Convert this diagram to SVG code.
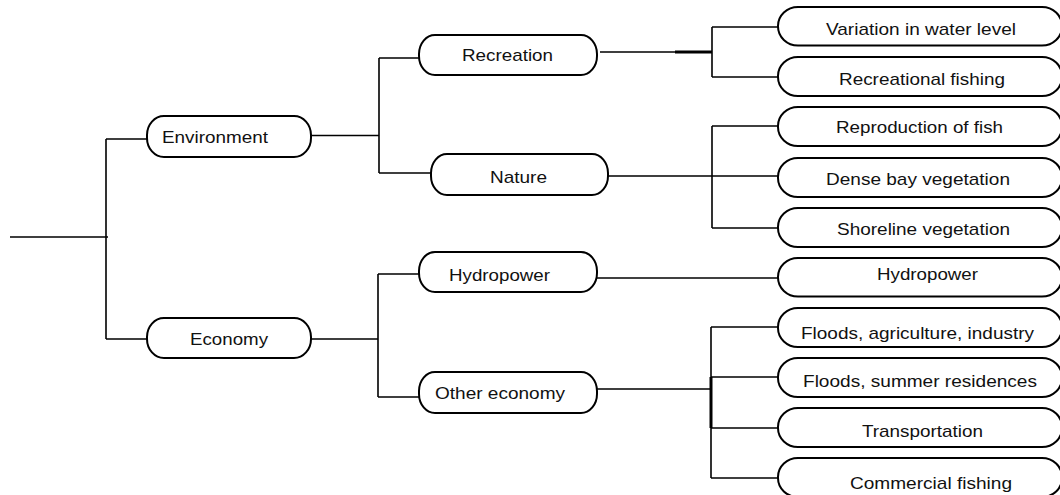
<svg xmlns="http://www.w3.org/2000/svg" width="1060" height="495" viewBox="0 0 1060 495">
  <style>
    .box { fill: #ffffff; stroke: #000000; stroke-width: 2; }
    .wire { fill: none; stroke: #000000; stroke-width: 1.6; }
    .thick { fill: none; stroke: #000000; stroke-width: 3; }
    text { font-family: "Liberation Sans", Arial, sans-serif; font-size: 17px; fill: #111111; }
  </style>

  <!-- connectors -->
  <g id="connectors">
    <!-- root to first level -->
    <path class="wire" d="M10,237 H108 M106,139 V339 M106,139 H147 M106,339 H147"/>
    <!-- Environment -->
    <path class="wire" d="M311,135.5 H379 M379,58 V173 M379,58 H419 M379,173 H431"/>
    <!-- Economy -->
    <path class="wire" d="M311,339 H378 M378,274 V397 M378,274 H419 M378,397 H419"/>
    <!-- Recreation -->
    <path class="wire" d="M600,52 H712 M712,27 V77 M712,27 H778 M712,77 H778"/>
    <path class="thick" d="M675,52 H712"/>
    <!-- Nature -->
    <path class="wire" d="M608,176 H778 M712,126 V228 M712,126 H778 M712,228 H778"/>
    <!-- Hydropower -->
    <path class="wire" d="M597,278 H778"/>
    <!-- Other economy -->
    <path class="wire" d="M597,389 H711 M711,327 V478 M711,327 H778 M711,377 H778 M711,428 H778 M711,478 H778"/>
    <path class="thick" d="M711,377 V428"/>
  </g>

  <!-- first level -->
  <g id="environment">
    <rect class="box" x="147" y="116" width="164" height="41" rx="17" ry="19"/>
    <text x="162" y="143" textLength="106" lengthAdjust="spacingAndGlyphs">Environment</text>
  </g>
  <g id="economy">
    <rect class="box" x="147" y="318" width="164" height="40" rx="17" ry="19"/>
    <text x="190" y="345" textLength="78" lengthAdjust="spacingAndGlyphs">Economy</text>
  </g>

  <!-- second level -->
  <g id="recreation">
    <rect class="box" x="419" y="35" width="178" height="40" rx="16" ry="19"/>
    <text x="462" y="61" textLength="91" lengthAdjust="spacingAndGlyphs">Recreation</text>
  </g>
  <g id="nature">
    <rect class="box" x="431" y="154" width="177" height="41" rx="16" ry="19"/>
    <text x="490" y="183" textLength="57" lengthAdjust="spacingAndGlyphs">Nature</text>
  </g>
  <g id="hydropower-sector">
    <rect class="box" x="419" y="252" width="178" height="40" rx="16" ry="19"/>
    <text x="449" y="281" textLength="101" lengthAdjust="spacingAndGlyphs">Hydropower</text>
  </g>
  <g id="other-economy">
    <rect class="box" x="419" y="372" width="178" height="41" rx="16" ry="19"/>
    <text x="435" y="399" textLength="130" lengthAdjust="spacingAndGlyphs">Other economy</text>
  </g>

  <!-- third level -->
  <g id="variation-water-level">
    <rect class="box" x="778" y="7" width="284" height="38.5" rx="20" ry="19"/>
    <text x="826" y="35" textLength="190" lengthAdjust="spacingAndGlyphs">Variation in water level</text>
  </g>
  <g id="recreational-fishing">
    <rect class="box" x="778" y="57" width="284" height="39" rx="20" ry="19"/>
    <text x="839" y="85" textLength="166" lengthAdjust="spacingAndGlyphs">Recreational fishing</text>
  </g>
  <g id="reproduction-fish">
    <rect class="box" x="778" y="107" width="284" height="39" rx="20" ry="19"/>
    <text x="836" y="133" textLength="167" lengthAdjust="spacingAndGlyphs">Reproduction of fish</text>
  </g>
  <g id="dense-bay-vegetation">
    <rect class="box" x="778" y="158" width="284" height="39" rx="20" ry="19"/>
    <text x="826" y="185" textLength="184" lengthAdjust="spacingAndGlyphs">Dense bay vegetation</text>
  </g>
  <g id="shoreline-vegetation">
    <rect class="box" x="778" y="208" width="284" height="39" rx="20" ry="19"/>
    <text x="837" y="235" textLength="173" lengthAdjust="spacingAndGlyphs">Shoreline vegetation</text>
  </g>
  <g id="hydropower">
    <rect class="box" x="778" y="258" width="284" height="38.5" rx="20" ry="19"/>
    <text x="877" y="280" textLength="101" lengthAdjust="spacingAndGlyphs">Hydropower</text>
  </g>
  <g id="floods-agriculture-industry">
    <rect class="box" x="778" y="308" width="284" height="39" rx="20" ry="19"/>
    <text x="801" y="339" textLength="233" lengthAdjust="spacingAndGlyphs">Floods, agriculture, industry</text>
  </g>
  <g id="floods-summer-residences">
    <rect class="box" x="778" y="358" width="284" height="39" rx="20" ry="19"/>
    <text x="803" y="387" textLength="234" lengthAdjust="spacingAndGlyphs">Floods, summer residences</text>
  </g>
  <g id="transportation">
    <rect class="box" x="778" y="408" width="284" height="39" rx="20" ry="19"/>
    <text x="862" y="437" textLength="121" lengthAdjust="spacingAndGlyphs">Transportation</text>
  </g>
  <g id="commercial-fishing">
    <rect class="box" x="778" y="458" width="284" height="39" rx="20" ry="19"/>
    <text x="850" y="489" textLength="162" lengthAdjust="spacingAndGlyphs">Commercial fishing</text>
  </g>
</svg>
